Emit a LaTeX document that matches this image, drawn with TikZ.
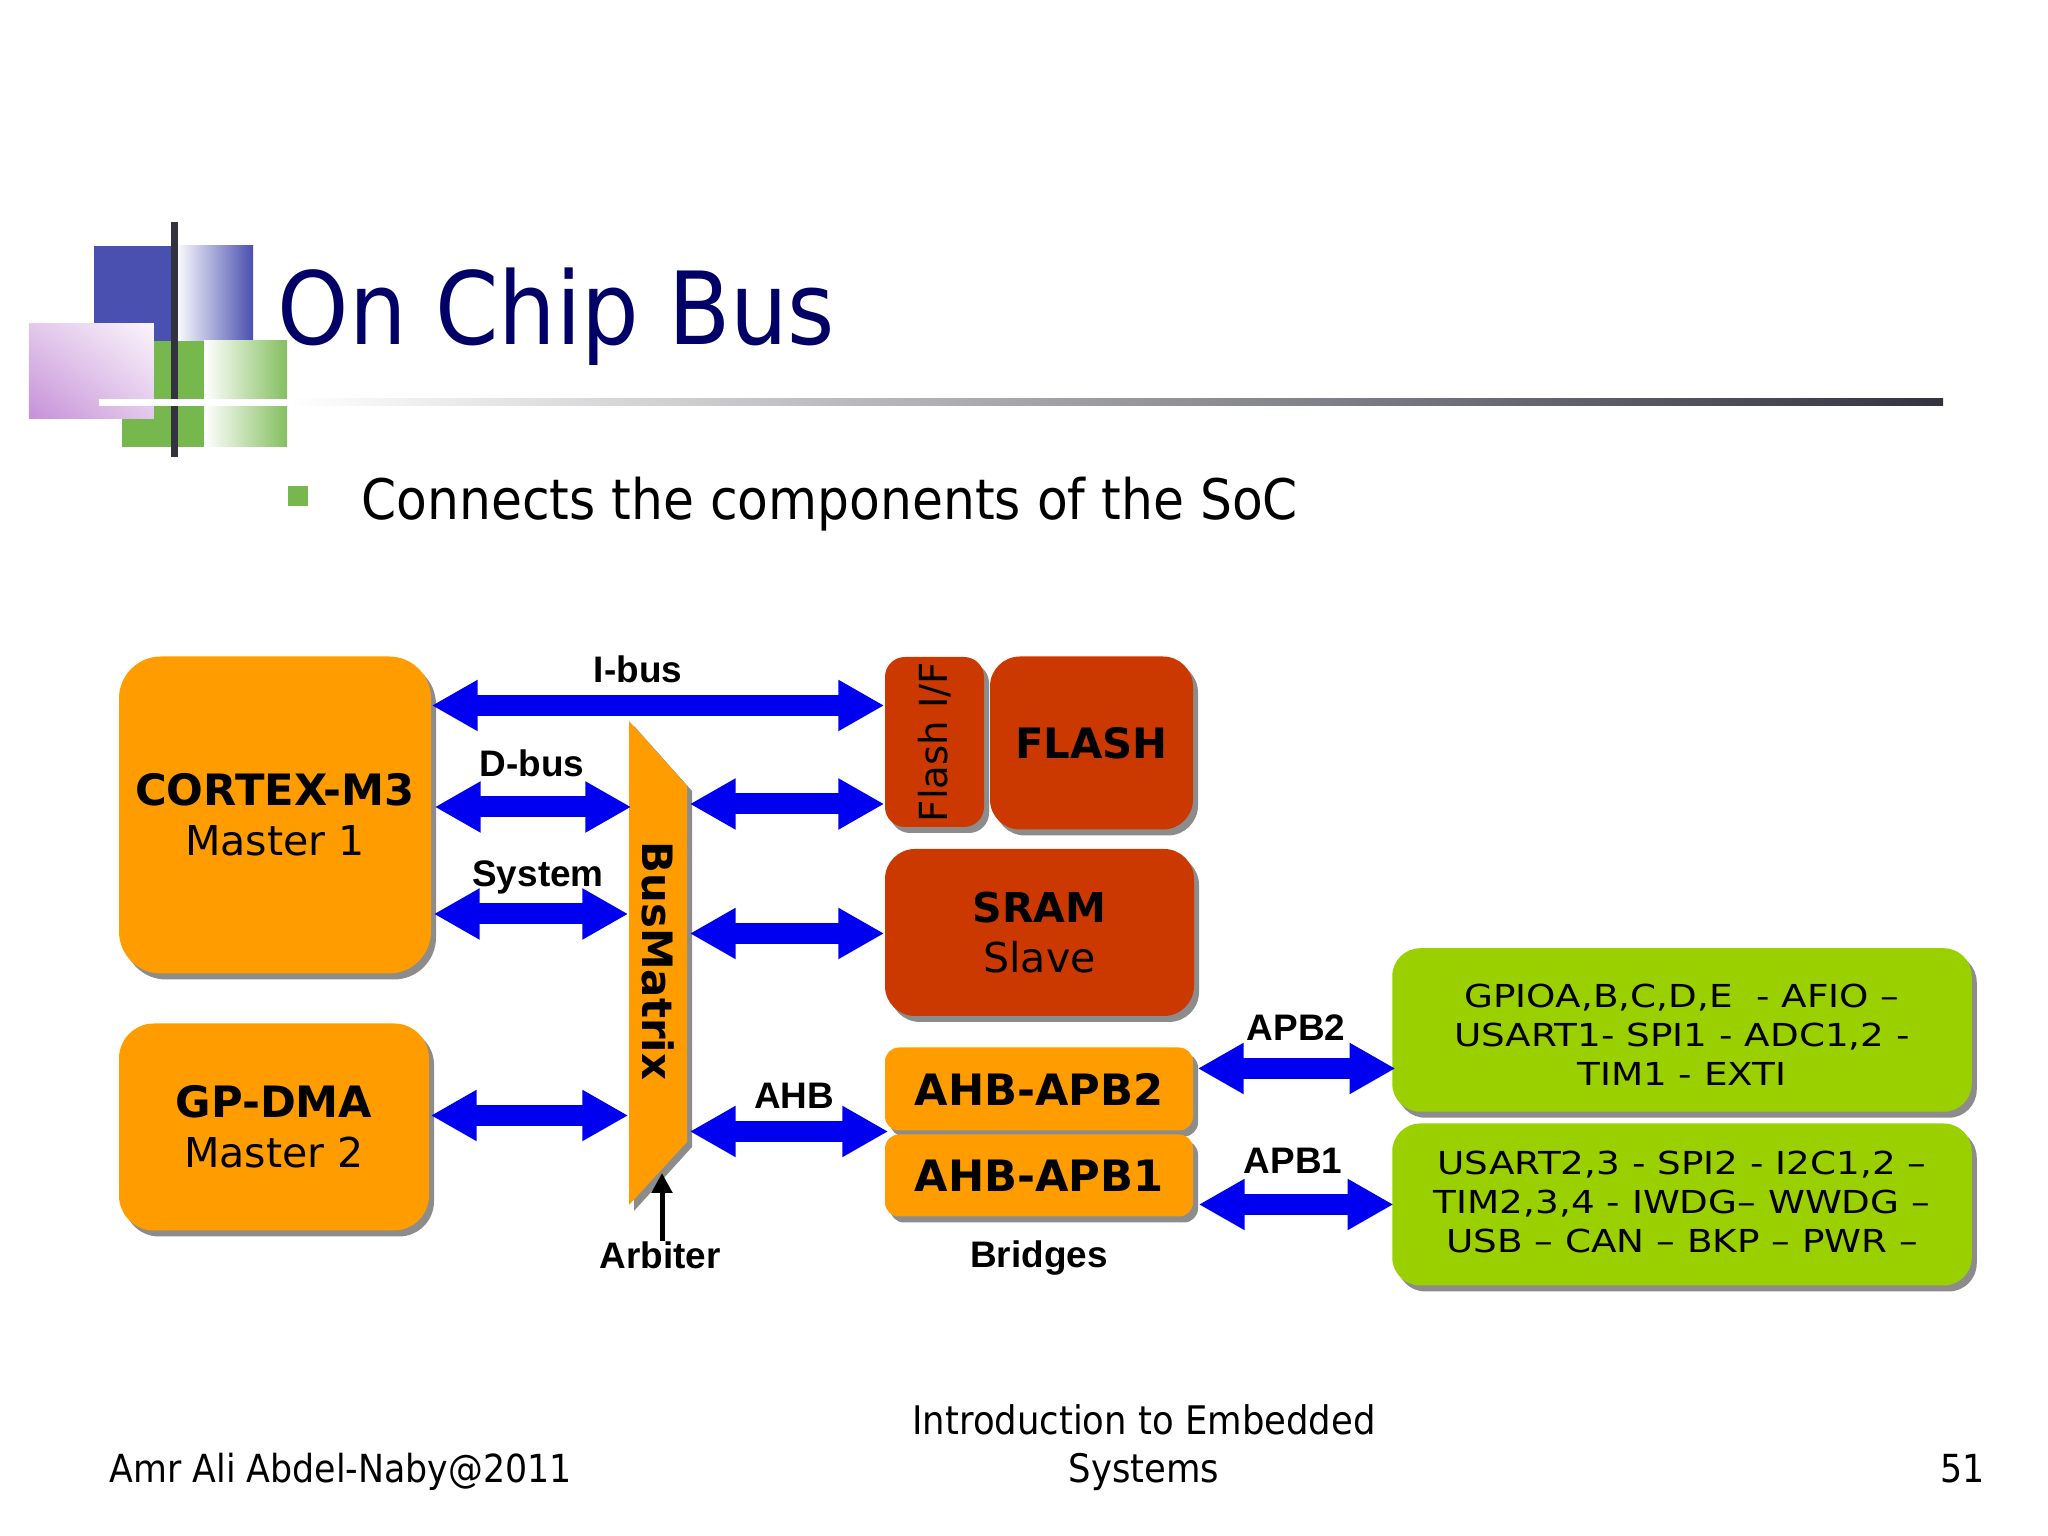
\documentclass[tikz,border=0pt]{standalone}
\usepackage{fontspec}
\setmainfont{DejaVu Sans}
\newfontfamily\slidefont[FakeStretch=0.9]{DejaVu Sans}
\newfontfamily\periphfont[FakeStretch=1.18]{DejaVu Sans}
\newfontfamily\busfont{Liberation Sans}
\usetikzlibrary{arrows.meta,shadows,shadings}
\definecolor{chiporange}{HTML}{FF9C00}
\definecolor{chipred}{HTML}{CC3900}
\definecolor{chipgreen}{HTML}{9BD000}
\definecolor{busblue}{HTML}{0000F0}
\definecolor{shadowgray}{HTML}{8C8C8C}
\definecolor{titleblue}{HTML}{000066}
\definecolor{logoblue}{HTML}{4A50B0}
\definecolor{logogreen}{HTML}{77B84E}
\definecolor{logopurple}{HTML}{C690D8}
\definecolor{logodark}{HTML}{33333F}
\newcommand{\blockhead}[1]{{\fontsize{12.3}{14.2}\selectfont\bfseries #1}}
\tikzset{
  block/.style={rectangle, inner sep=0pt, align=center,
    font=\fontsize{11.7}{14.2}\selectfont,
    drop shadow={shadow xshift=.05cm, shadow yshift=-.06cm, fill=shadowgray, opacity=1}},
  bridge/.style={block, fill=chiporange, rounded corners=.14cm, minimum width=3.08cm, font=\fontsize{12.3}{14.2}\selectfont\bfseries},
  periph/.style={block, fill=chipgreen, rounded corners=.28cm, minimum width=5.795cm, font=\periphfont\fontsize{9}{11.1}\selectfont},
  bus/.style={draw=busblue, line width=.21cm, shorten <=0cm,
    {Triangle[length=.46cm,width=.48cm]}-{Triangle[length=.46cm,width=.48cm]}},
  buslabel/.style={inner sep=0pt, font=\busfont\bfseries\fontsize{10.5}{12}\selectfont},
  slidetext/.style={inner sep=0pt, font=\slidefont\fontsize{11}{13.66}\selectfont}
}
\begin{document}
\begin{tikzpicture}
\useasboundingbox (0,0) rectangle (20.48,15.36);
% logo
\fill[logoblue] (.94,11.95) rectangle (1.75,12.90);
\shade[left color=white, right color=logoblue] (1.75,11.95) rectangle (2.53,12.90);
\fill[logogreen] (1.22,10.89) rectangle (2.04,11.95);
\shade[left color=white, right color=logogreen!90!white] (2.04,10.89) rectangle (2.87,11.95);
\shade[lower left=logopurple, upper right=white!90!logopurple, upper left=logopurple!50!white, lower right=logopurple!50!white] (.29,11.17) rectangle (1.54,12.12);
\fill[logodark] (1.71,10.79) rectangle (1.78,13.14);
\fill[white] (.99,11.30) rectangle (2.87,11.37);
\shade[left color=white, right color=logodark] (2.87,11.30) rectangle (19.43,11.37);
\node[anchor=base west, inner sep=0pt, text=titleblue, font=\slidefont\fontsize{28.7}{32}\selectfont] (title) at (2.77,11.91) {On Chip Bus};
\fill[logogreen] (2.88,10.30) rectangle (3.08,10.50);
\node[anchor=base west, inner sep=0pt, font=\slidefont\fontsize{15.9}{18}\selectfont] (point) at (3.61,10.16) {Connects the components of the SoC};
% masters
\node[block, fill=chiporange, rounded corners=.42cm, minimum width=3.12cm, minimum height=3.17cm] (cortex) at (2.75,7.21) {\blockhead{CORTEX-M3}\\Master 1};
\node[block, fill=chiporange, rounded corners=.35cm, minimum width=3.10cm, minimum height=2.07cm] (gpdma) at (2.74,4.09) {\blockhead{GP-DMA}\\Master 2};
% bus matrix
\fill[shadowgray] (6.34,8.10) -- (6.92,7.45) -- (6.92,3.89) -- (6.34,3.25) -- cycle;
\fill[chiporange] (6.29,8.15) -- (6.87,7.50) -- (6.87,3.94) -- (6.29,3.31) -- cycle;
\node[inner sep=0pt, minimum width=.58cm, minimum height=4.84cm, font=\fontsize{11.9}{14}\selectfont\bfseries] (busmatrix) at (6.58,5.75) {\rotatebox{-90}{BusMatrix}};
% slaves
\node[block, fill=chipred, rounded corners=.2cm, minimum width=.99cm, minimum height=1.70cm, font=\fontsize{11}{12}\selectfont] (flashif) at (9.345,7.94) {\rotatebox{90}{Flash I/F}};
\node[block, fill=chipred, rounded corners=.3cm, minimum width=2.03cm, minimum height=1.73cm, font=\fontsize{11.9}{14.2}\selectfont\bfseries] (flash) at (10.915,7.93) {FLASH};
\node[block, fill=chipred, rounded corners=.3cm, minimum width=3.09cm, minimum height=1.67cm] (sram) at (10.395,6.035) {\textbf{SRAM}\\Slave};
\node[bridge, minimum height=.83cm] (apbtwo) at (10.39,4.47) {AHB-APB2};
\node[bridge, minimum height=.82cm] (apbone) at (10.39,3.605) {AHB-APB1};
\node[periph, minimum height=1.635cm] (gpiob) at (16.82,5.06) {\rule{0pt}{9.2pt}GPIOA,B,C,D,E~ - AFIO –\\USART1- SPI1 - ADC1,2 -\\TIM1 - EXTI};
\node[periph, minimum height=1.62cm] (gpioa) at (16.82,3.315) {USART2,3 - SPI2 - I2C1,2 –\\TIM2,3,4 - IWDG– WWDG –\\USB – CAN – BKP – PWR –\rule[-1.7pt]{0pt}{0pt}};
% bus heights
\coordinate (ibus) at (0,8.305);
\coordinate (dbus) at (0,7.29);
\coordinate (sysbus) at (0,6.22);
\coordinate (dmabus) at (0,4.205);
\coordinate (flashbus) at (0,7.32);
\coordinate (srambus) at (0,6.025);
\coordinate (ahbbus) at (0,4.045);
\coordinate (apbtwobus) at (0,4.675);
\coordinate (apbonebus) at (0,3.315);
\draw[bus] (cortex.east |- ibus) -- (flashif.west |- ibus);
\draw[bus, shorten <=.03cm, shorten >=-.03cm] (cortex.east |- dbus) -- (busmatrix.west |- dbus);
\draw[bus, shorten <=.02cm] (cortex.east |- sysbus) -- (busmatrix.west |- sysbus);
\draw[bus, shorten <=.01cm] (gpdma.east |- dmabus) -- (busmatrix.west |- dmabus);
\draw[bus, shorten <=.02cm] (busmatrix.east |- flashbus) -- (flashif.west |- flashbus);
\draw[bus, shorten <=.02cm] (busmatrix.east |- srambus) -- (sram.west |- srambus);
\draw[bus, shorten <=.02cm, shorten >=-.04cm] (busmatrix.east |- ahbbus) -- (apbtwo.west |- ahbbus);
\draw[bus, shorten <=.04cm, shorten >=-.04cm] (apbtwo.east |- apbtwobus) -- (gpiob.west |- apbtwobus);
\draw[bus, shorten <=.05cm, shorten >=-.02cm] (apbone.east |- apbonebus) -- (gpioa.west |- apbonebus);
% labels
\node[buslabel] (ibuslabel) at (6.38,8.665) {I-bus};
\node[buslabel] (dbuslabel) at (5.32,7.725) {D-bus};
\node[buslabel] (syslabel) at (5.38,6.59) {System};
\node[buslabel] (ahblabel) at (7.94,4.40) {AHB};
\node[buslabel] (apbtwolabel) at (12.96,5.085) {APB2};
\node[buslabel] (apbonelabel) at (12.93,3.755) {APB1};
\node[buslabel] (arbiter) at (6.60,2.81) {Arbiter};
\node[buslabel] (bridges) at (10.39,2.78) {Bridges};
\coordinate (arbtip) at (6.62,3.63);
\draw[black, line width=.05cm, -{Triangle[length=.2cm,width=.2cm]}] (arbiter.north -| arbtip) -- (arbtip);
% footer
\node[slidetext, anchor=base west] (author) at (1.09,.53) {Amr Ali Abdel-Naby@2011};
\node[slidetext, align=center, font=\slidefont\fontsize{11.2}{13.66}\selectfont] (course) at (11.44,.88) {Introduction to Embedded\\Systems};
\node[slidetext, anchor=base east] (page) at (19.85,.53) {51};
\end{tikzpicture}
\end{document}
